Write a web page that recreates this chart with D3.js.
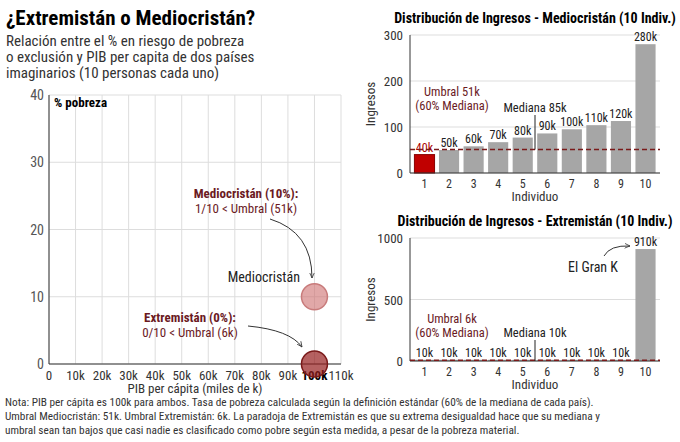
<!DOCTYPE html><html><head><meta charset="utf-8">
<script src="https://cdn.jsdelivr.net/npm/d3@7"></script>
<style>body{margin:0;background:#fff}svg{font-family:"Roboto Condensed","Liberation Sans Narrow",Roboto,sans-serif}</style></head><body>
<svg id="c" width="680" height="442"></svg>
<script>
const countries=["Mediocristán","Extremistán"];
const gdp=[100,100];
const poverty=[10,0];
const xTicks=[0,10,20,30,40,50,60,70,80,90,100,110];
const yTicks=[0,10,20,30,40];
const individuals=[1,2,3,4,5,6,7,8,9,10];
const medioIncome=[40,50,58,67,77,86,95,104,113,280];
const medioLabels=["40k","50k","60k","70k","80k","90k","100k","110k","120k","280k"];
const extremoIncome=[10,10,10,10,10,10,10,10,10,910];
const extremoLabels=["10k","10k","10k","10k","10k","10k","10k","10k","10k","910k"];
const medioThreshold=51, extremoThreshold=6;

const svg=d3.select("#c");
const dark="#6b1a1f", grid="#ddd";
svg.append("defs").append("marker").attr("id","ar").attr("viewBox","0 0 10 10").attr("refX",9).attr("refY",5)
 .attr("markerWidth",6).attr("markerHeight",6).attr("orient","auto")
 .append("path").attr("d","M0,1L9,5L0,9").attr("fill","none").attr("stroke","#333").attr("stroke-width",1.3);

svg.append("text").attr("x",6).attr("y",25).attr("font-size",21).attr("font-weight","bold").text("¿Extremistán o Mediocristán?");
["Relación entre el % en riesgo de pobreza","o exclusión y PIB per capita de dos países","imaginarios (10 personas cada uno)"].forEach((t,i)=>
 svg.append("text").attr("x",6).attr("y",46+i*16).attr("font-size",15).attr("fill","#333").text(t));

const x=d3.scaleLinear().domain([0,110]).range([49,341]);
const y=d3.scaleLinear().domain([0,40]).range([364,95]);
const g=svg.append("g");
xTicks.forEach(t=>g.append("line").attr("x1",x(t)).attr("x2",x(t)).attr("y1",y(0)).attr("y2",y(40)).attr("stroke",grid));
yTicks.forEach(t=>g.append("line").attr("x1",x(0)).attr("x2",x(110)).attr("y1",y(t)).attr("y2",y(t)).attr("stroke",grid));
g.append("line").attr("x1",x(0)).attr("x2",x(0)).attr("y1",y(0)).attr("y2",y(40)).attr("stroke","#333");
g.append("line").attr("x1",x(0)).attr("x2",x(110)).attr("y1",y(0)).attr("y2",y(0)).attr("stroke","#333");
xTicks.forEach(t=>g.append("text").attr("x",x(t)).attr("y",380).attr("text-anchor","middle").attr("font-size",13)
 .attr("font-weight",t==100?"bold":"normal").attr("fill",t==100?"#000":"#333").text(t==0?"0":t+"k"));
yTicks.forEach(t=>g.append("text").attr("x",x(0)-5).attr("y",y(t)+5).attr("text-anchor","end").attr("font-size",14).attr("fill","#555").text(t));
g.append("text").attr("x",54).attr("y",107).attr("font-size",13).attr("font-weight","bold").text("% pobreza");
g.append("text").attr("x",195).attr("y",393).attr("text-anchor","middle").attr("font-size",13).attr("fill","#333").text("PIB per cápita (miles de k)");
const fills=["rgba(205,110,110,0.6)","rgba(150,30,30,0.7)"], strokes=["#c87b7b","#7a1a1a"];
countries.forEach((c,i)=>g.append("circle").attr("cx",x(gdp[i])).attr("cy",y(poverty[i])).attr("r",13).attr("fill",fills[i]).attr("stroke",strokes[i]).attr("stroke-width",1.5));
g.append("text").attr("x",300).attr("y",282).attr("text-anchor","end").attr("font-size",14).attr("fill","#222").text("Mediocristán");
g.append("text").attr("x",246).attr("y",198).attr("text-anchor","middle").attr("font-size",13).attr("font-weight","bold").attr("fill",dark).text("Mediocristán (10%):");
g.append("text").attr("x",246).attr("y",213).attr("text-anchor","middle").attr("font-size",13).attr("fill",dark).text("1/10 < Umbral (51k)");
g.append("text").attr("x",190).attr("y",322).attr("text-anchor","middle").attr("font-size",13).attr("font-weight","bold").attr("fill",dark).text("Extremistán (0%):");
g.append("text").attr("x",190).attr("y",337).attr("text-anchor","middle").attr("font-size",13).attr("fill",dark).text("0/10 < Umbral (6k)");
g.append("path").attr("d","M270,219 Q312,232 312,278").attr("fill","none").attr("stroke","#333").attr("marker-end","url(#ar)");
g.append("path").attr("d","M248,326 Q290,330 302,347").attr("fill","none").attr("stroke","#333").attr("marker-end","url(#ar)");

function bars(top,bottom,ymax,ticks,vals,labs,thr,title,redFirst){
 const bx=d3.scaleBand().domain(individuals).range([410,660]).padding(0.18);
 const by=d3.scaleLinear().domain([0,ymax]).range([bottom,top]);
 const b=svg.append("g");
 b.append("text").attr("x",535).attr("y",top-12).attr("text-anchor","middle").attr("font-size",14).attr("font-weight","bold").text(title);
 ticks.forEach(t=>{b.append("line").attr("x1",410).attr("x2",660).attr("y1",by(t)).attr("y2",by(t)).attr("stroke",grid);
  b.append("text").attr("x",403).attr("y",by(t)+5).attr("text-anchor","end").attr("font-size",13).attr("fill","#333").text(t);});
 individuals.forEach((d,i)=>{
  b.append("rect").attr("x",bx(d)).attr("width",bx.bandwidth()).attr("y",by(vals[i])).attr("height",by(0)-by(vals[i]))
   .attr("fill",redFirst&&i==0?"#c00000":"#a6a6a6").attr("stroke",redFirst&&i==0?"#800":"none");
  b.append("text").attr("x",bx(d)+bx.bandwidth()/2).attr("y",by(vals[i])-3).attr("text-anchor","middle").attr("font-size",12).attr("fill",redFirst&&i==0?"#a00":"#222").text(labs[i]);
  b.append("text").attr("x",bx(d)+bx.bandwidth()/2).attr("y",bottom+15).attr("text-anchor","middle").attr("font-size",12).attr("fill","#333").text(d);
 });
 b.append("line").attr("x1",410).attr("x2",410).attr("y1",top).attr("y2",bottom).attr("stroke","#333");
 b.append("line").attr("x1",410).attr("x2",660).attr("y1",bottom).attr("y2",bottom).attr("stroke","#333");
 b.append("line").attr("x1",410).attr("x2",660).attr("y1",by(thr)).attr("y2",by(thr)).attr("stroke","#7a1a1a").attr("stroke-width",1.5).attr("stroke-dasharray","5,3");
 b.append("text").attr("x",535).attr("y",bottom+28).attr("text-anchor","middle").attr("font-size",13).attr("fill","#333").text("Individuo");
 b.append("text").attr("transform",`translate(375,${(top+bottom)/2}) rotate(-90)`).attr("text-anchor","middle").attr("font-size",13).attr("fill","#333").text("Ingresos");
 // median marker between 5 and 6
 const mx=(bx(5)+bx.bandwidth()+bx(6))/2;
 return {bx,by,b,mx};
}
const m=bars(35,173,300,[0,100,200,300],medioIncome,medioLabels,medioThreshold,"Distribución de Ingresos - Mediocristán (10 Indiv.)",true);
m.b.append("text").attr("x",452).attr("y",96).attr("text-anchor","middle").attr("font-size",12.5).attr("fill",dark).text("Umbral 51k");
m.b.append("text").attr("x",452).attr("y",110).attr("text-anchor","middle").attr("font-size",12.5).attr("fill",dark).text("(60% Mediana)");
m.b.append("text").attr("x",m.mx).attr("y",112).attr("text-anchor","middle").attr("font-size",12.5).attr("fill","#222").text("Mediana 85k");
m.b.append("line").attr("x1",m.mx).attr("x2",m.mx).attr("y1",115).attr("y2",m.by(medioThreshold)).attr("stroke","#222");

const e=bars(238,361,1000,[0,500,1000],extremoIncome,extremoLabels,extremoThreshold,"Distribución de Ingresos - Extremistán (10 Indiv.)",false);
e.b.append("text").attr("x",452).attr("y",323).attr("text-anchor","middle").attr("font-size",12.5).attr("fill",dark).text("Umbral 6k");
e.b.append("text").attr("x",452).attr("y",337).attr("text-anchor","middle").attr("font-size",12.5).attr("fill",dark).text("(60% Mediana)");
e.b.append("text").attr("x",e.mx).attr("y",337).attr("text-anchor","middle").attr("font-size",12.5).attr("fill","#222").text("Mediana 10k");
e.b.append("line").attr("x1",e.mx).attr("x2",e.mx).attr("y1",340).attr("y2",361).attr("stroke","#222");
e.b.append("text").attr("x",593).attr("y",272).attr("text-anchor","middle").attr("font-size",14).attr("fill","#222").text("El Gran K");
e.b.append("path").attr("d","M604,256 Q610,245 630,246").attr("fill","none").attr("stroke","#333").attr("marker-end","url(#ar)");

["Nota: PIB per cápita es 100k para ambos. Tasa de pobreza calculada según la definición estándar (60% de la mediana de cada país).",
 "Umbral Mediocristán: 51k. Umbral Extremistán: 6k. La paradoja de Extremistán es que su extrema desigualdad hace que su mediana y",
 "umbral sean tan bajos que casi nadie es clasificado como pobre según esta medida, a pesar de la pobreza material."].forEach((t,i)=>
 svg.append("text").attr("x",5).attr("y",406+i*14).attr("font-size",11.3).attr("fill","#333").text(t));
</script></body></html>
